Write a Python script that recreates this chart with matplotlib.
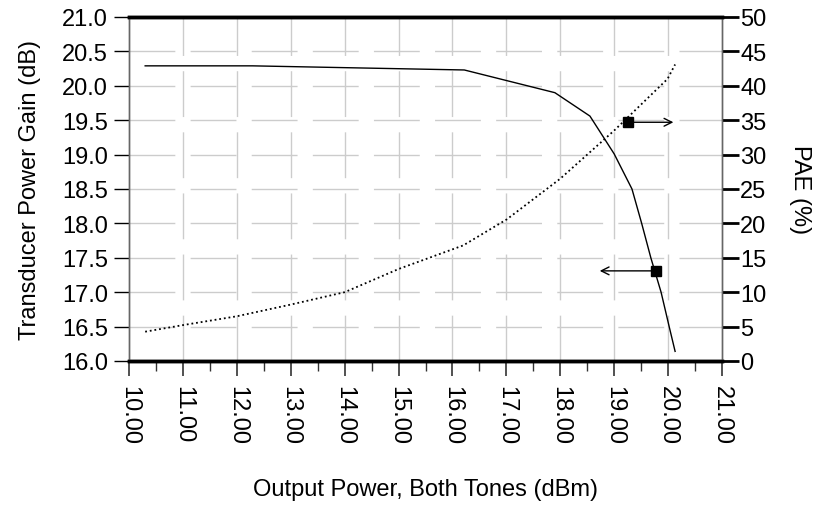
import matplotlib
matplotlib.use("Agg")
import matplotlib.pyplot as plt
from matplotlib.ticker import MultipleLocator, FormatStrFormatter

plt.rcParams["font.family"] = ["Liberation Sans", "DejaVu Sans"]

# gain curve (left axis)
gain_x = [10.30, 12.29, 14.25, 16.22, 17.90, 18.55, 19.00, 19.33, 19.51, 19.68, 19.87, 20.02, 20.13]
gain_y = [20.29, 20.29, 20.26, 20.23, 19.90, 19.56, 19.01, 18.50, 18.00, 17.50, 17.00, 16.50, 16.14]
# PAE curve (right axis)
pae_x = [10.30, 11.01, 12.00, 13.00, 14.00, 15.01, 16.20, 17.01, 18.00, 19.00, 19.99, 20.13]
pae_y = [4.26, 5.23, 6.5, 8.2, 10.0, 13.4, 16.8, 20.6, 26.5, 33.5, 41.0, 43.1]
# markers with arrows pointing to their axis
gain_mark = (19.78, 17.31)
gain_arrow_to = 18.68
pae_mark = (19.25, 34.7)
pae_arrow_to = 20.15

fig = plt.figure(figsize=(8.22, 5.06), dpi=100)
ax = fig.add_axes([129 / 822, 144 / 506, 593 / 822, 344 / 506])
ax2 = ax.twinx()

grid_kw = dict(color="#cccccc", lw=1.0, dashes=(33, 11))
for v in range(11, 21):
    ax.axvline(v, **grid_kw, zorder=0)
for h in [16.5, 17.0, 17.5, 18.0, 18.5, 19.0, 19.5, 20.0, 20.5]:
    ax.axhline(h, **grid_kw, zorder=0)

ax.plot(gain_x, gain_y, color="black", lw=1.0)
ax2.plot(pae_x, pae_y, color="black", lw=1.3, linestyle=(0, (1, 1.6)))

ax.plot(*gain_mark, marker="s", ms=7, color="black")
ax.annotate("", xy=(gain_arrow_to, gain_mark[1]), xytext=gain_mark,
            arrowprops=dict(arrowstyle="->", lw=1.0, color="black", mutation_scale=14))
ax2.plot(*pae_mark, marker="s", ms=7, color="black")
ax2.annotate("", xy=(pae_arrow_to, pae_mark[1]), xytext=pae_mark,
             arrowprops=dict(arrowstyle="->", lw=1.0, color="black", mutation_scale=14))

ax.set_xlim(10, 21)
ax.set_ylim(16, 21)
ax2.set_ylim(0, 50)
ax.xaxis.set_major_locator(MultipleLocator(1))
ax.xaxis.set_minor_locator(MultipleLocator(0.5))
ax.xaxis.set_major_formatter(FormatStrFormatter("%.2f"))
ax.yaxis.set_major_locator(MultipleLocator(0.5))
ax.yaxis.set_major_formatter(FormatStrFormatter("%.1f"))
ax2.yaxis.set_major_locator(MultipleLocator(5))

fs = 17
ax.tick_params(axis="x", which="major", direction="out", length=11, width=1.2, color="#333333",
               labelsize=fs, labelrotation=-90, pad=6)
ax.tick_params(axis="x", which="minor", direction="out", length=7, width=1.0, color="#333333")
ax.tick_params(axis="y", direction="out", length=11, width=1.0, color="black", labelsize=fs, pad=4)
ax2.tick_params(axis="y", direction="out", length=12, width=2.0, color="black", labelsize=fs, pad=1)

for a in (ax, ax2):
    a.spines["top"].set_linewidth(2.5)
    a.spines["bottom"].set_linewidth(2.5)
    a.spines["left"].set_linewidth(1.0)
    a.spines["right"].set_linewidth(1.0)
    a.spines["left"].set_color("#666666")
    a.spines["right"].set_color("#666666")

ax.set_xlabel("Output Power, Both Tones (dBm)", fontsize=fs, labelpad=25)
ax.set_ylabel("Transducer Power Gain (dB)", fontsize=fs, labelpad=15)
ax2.set_ylabel("PAE (%)", fontsize=fs, rotation=-90, labelpad=32)

fig.savefig("out.png", dpi=100)
